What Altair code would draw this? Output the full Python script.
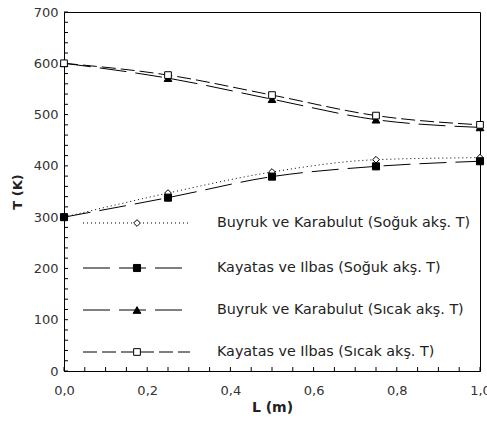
import altair as alt
import pandas as pd

# ---- data ----
L = [0.0, 0.25, 0.5, 0.75, 1.0]
buyruk_cold = [300, 347, 388, 412, 416]
kayatas_cold = [300, 338, 379, 399, 409]
buyruk_hot = [600, 571, 530, 490, 475]
kayatas_hot = [600, 577, 538, 498, 480]

names = [
    "Buyruk ve Karabulut (Soğuk akş. T)",
    "Kayatas ve Ilbas (Soğuk akş. T)",
    "Buyruk ve Karabulut (Sıcak akş. T)",
    "Kayatas ve Ilbas (Sıcak akş. T)",
]
series_values = [buyruk_cold, kayatas_cold, buyruk_hot, kayatas_hot]

x_ticks = [0.0, 0.2, 0.4, 0.6, 0.8, 1.0]
x_minor = [round(i * 0.05, 2) for i in range(21)]
y_ticks = [0, 100, 200, 300, 400, 500, 600, 700]
y_minor = list(range(0, 701, 20))

# ---- styles ----
dashes = [[1, 3], [27, 9], [27, 9], [14, 5]]
shapes = ["diamond", "square", "triangle-up", "square"]
fills = ["white", "black", "black", "white"]
sizes = [45, 50, 60, 45]

W, H = 416, 359
FONT = "DejaVu Sans"
xs = alt.Scale(domain=[0, 1], nice=False)
ys = alt.Scale(domain=[0, 700], nice=False)

x_axis = alt.Axis(
    values=x_ticks, format=".1f", labelExpr="replace(datum.label, '.', ',')",
    tickSize=0, labelPadding=13, labelFlush=False, title="L (m)", titleFontSize=14,
    titleFontWeight="bold", titlePadding=3, labelFontSize=13,
    labelColor="#333333", titleColor="#222222", domainColor="black",
    labelFont=FONT, titleFont=FONT, grid=False)
y_axis = alt.Axis(
    values=y_ticks, tickSize=0, labelPadding=6, labelFlush=False, title="T (K)",
    titleFontSize=13, titleFontWeight="bold", titlePadding=9,
    labelFontSize=13, labelColor="#333333", titleColor="#222222",
    domainColor="black", labelFont=FONT, titleFont=FONT, grid=False)


def X(field):
    return alt.X(field, type="quantitative", scale=xs, axis=x_axis)


def Y(field):
    return alt.Y(field, type="quantitative", scale=ys, axis=y_axis)


layers = []

# inward tick marks
ym = pd.DataFrame({"v": y_minor})
layers.append(alt.Chart(ym).mark_rule(color="black", strokeWidth=1).encode(
    y=Y("v"), x=alt.value(0), x2=alt.value(4)))
xm = pd.DataFrame({"v": x_minor})
layers.append(alt.Chart(xm).mark_rule(color="black", strokeWidth=1).encode(
    x=X("v"), y=alt.value(H), y2=alt.value(H - 4)))

# data lines and markers
for i, name in enumerate(names):
    df = pd.DataFrame({"L": L, "T": series_values[i], "s": name})
    layers.append(alt.Chart(df).mark_line(
        color="black", strokeWidth=1, strokeDash=dashes[i], interpolate="monotone"
    ).encode(x=X("L"), y=Y("T")))
for i, name in enumerate(names):
    df = pd.DataFrame({"L": L, "T": series_values[i], "s": name})
    layers.append(alt.Chart(df).mark_point(
        shape=shapes[i], filled=True, fill=fills[i], stroke="black", strokeWidth=1,
        size=sizes[i], opacity=1
    ).encode(x=X("L"), y=Y("T")))

# manual legend inside plot
legend_rows = [211, 256, 298, 340]
legend_ends = [126, 118, 118, 126]
for i, name in enumerate(names):
    ld = pd.DataFrame({"label": [name]})
    yp = legend_rows[i]
    layers.append(alt.Chart(ld).mark_rule(color="black", strokeWidth=1, strokeDash=dashes[i]).encode(
        x=alt.value(19), x2=alt.value(legend_ends[i]), y=alt.value(yp)))
    layers.append(alt.Chart(ld).mark_point(
        shape=shapes[i], filled=True, fill=fills[i], stroke="black", strokeWidth=1,
        size=sizes[i], opacity=1).encode(x=alt.value(73), y=alt.value(yp)))
    layers.append(alt.Chart(ld).mark_text(
        align="left", baseline="middle", font=FONT, fontSize=14.3, color="#222222").encode(
        x=alt.value(153), y=alt.value(yp), text="label:N"))

chart = alt.layer(*layers).properties(
    width=W, height=H,
    padding={"left": 64, "top": 12, "right": 7, "bottom": 61},
    autosize="none",
    background="white",
).configure_view(stroke="black", strokeWidth=1)

chart.save("out.html", embed_options={"renderer": "svg", "actions": False})
